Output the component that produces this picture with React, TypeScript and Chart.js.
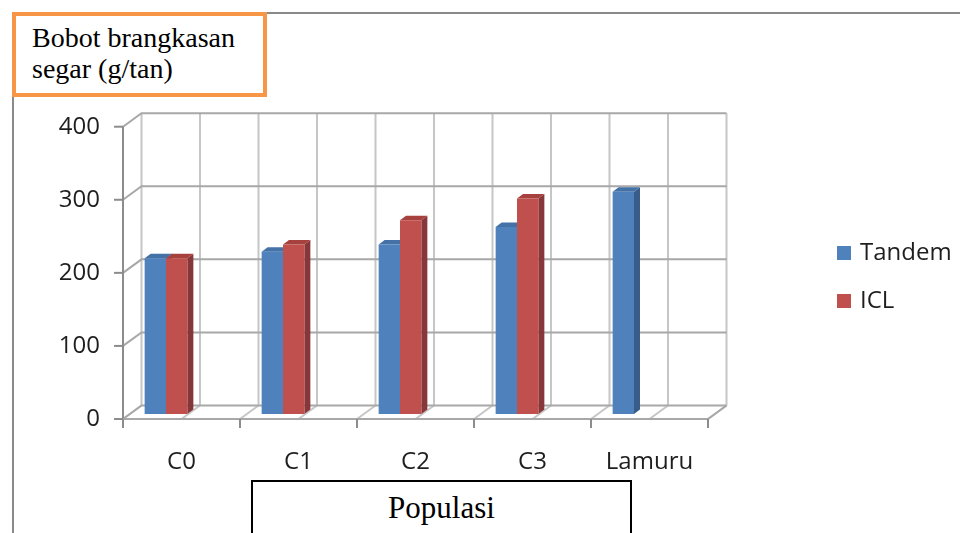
import { useEffect, useRef } from 'react';
import { Chart, registerables } from 'chart.js';

Chart.register(...registerables);

// Data
const categories = ['C0', 'C1', 'C2', 'C3', 'Lamuru'];
const seriesNames = ['Tandem', 'ICL'];
const tandemValues = [213, 222, 232, 256, 304];
const iclValues: (number | null)[] = [213, 232, 265, 295, null];
const yMin = 0;
const yMax = 400;
const yStep = 100;

// Styling
const FRONT_COLORS = ['#4F81BD', '#C0504D'];
const TOP_COLORS = ['#4471A6', '#A6413E'];
const SIDE_COLORS = ['#385D8A', '#87363A'];
const AXIS_GRAY = '#8C8C8C';
const GRID_H = '#A8A8A8';
const GRID_V = '#C6C6C6';
const TEXT = '#1E1E1E';
const SANS = '"Open Sans", "Noto Sans", sans-serif';

// 3D projection: bars sit slightly behind the front axis plane,
// the back wall is further back (shifted right and up).
const FRONT_DX = 15.5; // front frame relative to bar-plane category grid
const FRONT_DY = 5;
const WALL_DX = 18.5;
const WALL_DY = -13.5;
const BAR_DX = 6;
const BAR_DY = -4.5;

const frame3d = {
  id: 'frame3d',
  beforeDatasetsDraw(chart: any) {
    const { ctx, chartArea, scales } = chart;
    const xs = scales.x;
    const ys = scales.y;
    const n = xs.getLabels().length;
    const catW = (chartArea.right - chartArea.left) / n;
    const fL = chartArea.left + FRONT_DX;
    const fR = chartArea.right + FRONT_DX;
    const bL = fL + WALL_DX;
    const bR = fR + WALL_DX;
    const fy = (v: number) => ys.getPixelForValue(v) + FRONT_DY;
    const by = (v: number) => fy(v) + WALL_DY;
    const tickVals: number[] = ys.ticks.map((t: any) => t.value);

    ctx.save();
    ctx.lineCap = 'butt';

    // back wall vertical grid (every half category)
    ctx.strokeStyle = GRID_V;
    ctx.lineWidth = 2;
    for (let k = 0; k <= n * 2; k++) {
      const x = bL + (k * catW) / 2;
      ctx.beginPath();
      ctx.moveTo(x, by(ys.max));
      ctx.lineTo(x, by(ys.min));
      ctx.stroke();
    }
    // floor diagonals
    for (let k = 0; k <= n * 2; k++) {
      const x0 = fL + (k * catW) / 2;
      ctx.beginPath();
      ctx.moveTo(x0, fy(ys.min));
      ctx.lineTo(x0 + WALL_DX, by(ys.min));
      ctx.stroke();
    }

    // back wall horizontal grid + left wall diagonals
    ctx.strokeStyle = GRID_H;
    for (const v of tickVals) {
      ctx.beginPath();
      ctx.moveTo(fL, fy(v));
      ctx.lineTo(bL, by(v));
      ctx.lineTo(bR, by(v));
      ctx.stroke();
    }
    // right end of floor
    ctx.beginPath();
    ctx.moveTo(bR, by(ys.min));
    ctx.lineTo(fR, fy(ys.min));
    ctx.stroke();

    // front axes
    ctx.strokeStyle = AXIS_GRAY;
    ctx.beginPath();
    ctx.moveTo(fL, fy(ys.max));
    ctx.lineTo(fL, fy(ys.min));
    ctx.stroke();
    ctx.strokeStyle = GRID_H;
    ctx.beginPath();
    ctx.moveTo(fL, fy(ys.min));
    ctx.lineTo(fR, fy(ys.min));
    ctx.stroke();
    ctx.strokeStyle = AXIS_GRAY;
    for (const v of tickVals) {
      ctx.beginPath();
      ctx.moveTo(fL - 9, fy(v));
      ctx.lineTo(fL, fy(v));
      ctx.stroke();
    }
    for (let i = 0; i <= n; i++) {
      const x = fL + i * catW;
      ctx.beginPath();
      ctx.moveTo(x, fy(ys.min));
      ctx.lineTo(x, fy(ys.min) + 9);
      ctx.stroke();
    }

    // bar depth faces (top and right side)
    chart.data.datasets.forEach((_ds: any, di: number) => {
      const meta = chart.getDatasetMeta(di);
      meta.data.forEach((bar: any, i: number) => {
        const raw = chart.data.datasets[di].data[i];
        if (raw === null || raw === undefined) return;
        const { x, y, base, width } = bar.getProps(['x', 'y', 'base', 'width'], true);
        const l = x - width / 2;
        const r = x + width / 2;
        ctx.fillStyle = SIDE_COLORS[di];
        ctx.beginPath();
        ctx.moveTo(r, y);
        ctx.lineTo(r + BAR_DX, y + BAR_DY);
        ctx.lineTo(r + BAR_DX, base + BAR_DY);
        ctx.lineTo(r, base);
        ctx.closePath();
        ctx.fill();
        ctx.fillStyle = TOP_COLORS[di];
        ctx.beginPath();
        ctx.moveTo(l, y);
        ctx.lineTo(l + BAR_DX, y + BAR_DY);
        ctx.lineTo(r + BAR_DX, y + BAR_DY);
        ctx.lineTo(r, y);
        ctx.closePath();
        ctx.fill();
      });
    });
    ctx.restore();
  },
  afterDraw(chart: any) {
    const { ctx, chartArea, scales } = chart;
    const xs = scales.x;
    const ys = scales.y;
    const labels: string[] = xs.getLabels();
    const n = labels.length;
    const catW = (chartArea.right - chartArea.left) / n;
    const fL = chartArea.left + FRONT_DX;
    const fy = (v: number) => ys.getPixelForValue(v) + FRONT_DY;

    ctx.save();
    ctx.fillStyle = TEXT;
    ctx.font = `24px ${SANS}`;
    ctx.textBaseline = 'middle';
    ctx.textAlign = 'right';
    for (const t of ys.ticks) {
      ctx.fillText(String(t.value), fL - 23, fy(t.value));
    }
    ctx.textAlign = 'center';
    labels.forEach((lab, i) => {
      ctx.fillText(lab, fL + (i + 0.5) * catW, fy(ys.min) + 43);
    });

    // legend
    const lx = 837;
    const ly = 253;
    chart.data.datasets.forEach((ds: any, di: number) => {
      const cy = ly + di * 48;
      ctx.fillStyle = FRONT_COLORS[di];
      ctx.fillRect(lx, cy - 7, 14, 14);
      ctx.fillStyle = TEXT;
      ctx.textAlign = 'left';
      ctx.fillText(ds.label, lx + 23, cy);
    });
    ctx.restore();
  },
};

function BarChart3D() {
  const canvasRef = useRef<HTMLCanvasElement | null>(null);

  useEffect(() => {
    const canvas = canvasRef.current;
    if (!canvas) return;
    const chart = new Chart(canvas, {
      type: 'bar',
      data: {
        labels: categories,
        datasets: [
          {
            label: seriesNames[0],
            data: tandemValues,
            backgroundColor: FRONT_COLORS[0],
            borderWidth: 0,
            categoryPercentage: 0.365,
            barPercentage: 1,
          },
          {
            label: seriesNames[1],
            data: iclValues,
            backgroundColor: FRONT_COLORS[1],
            borderWidth: 0,
            categoryPercentage: 0.365,
            barPercentage: 1,
          },
        ],
      },
      options: {
        responsive: false,
        animation: false,
        devicePixelRatio: 1,
        layout: { padding: { left: 107.5, right: 267.5, top: 121.7, bottom: 119 } },
        plugins: { legend: { display: false }, tooltip: { enabled: false }, title: { display: false } },
        scales: {
          x: { display: false, offset: true },
          y: { display: false, min: yMin, max: yMax, ticks: { stepSize: yStep } },
        },
      },
      plugins: [frame3d],
    });
    return () => chart.destroy();
  }, []);

  return <canvas ref={canvasRef} width={960} height={533} style={{ position: 'absolute', left: 0, top: 0, width: 960, height: 533 }} />;
}

export default function App() {
  return (
    <div style={{ position: 'fixed', left: 0, top: 0, width: 960, height: 533, overflow: 'hidden', background: '#fff' }}>
      {/* outer chart border */}
      <div
        style={{
          position: 'absolute',
          left: 12,
          top: 12,
          width: 1000,
          height: 700,
          borderTop: '2px solid #8A8A8A',
          borderLeft: '2px solid #8A8A8A',
        }}
      />
      <BarChart3D />
      {/* value axis title */}
      <div
        style={{
          position: 'absolute',
          left: 12,
          top: 12,
          width: 255,
          height: 85,
          boxSizing: 'border-box',
          border: '4px solid #F79646',
          background: '#fff',
          padding: '7px 0 0 16px',
          fontFamily: '"Liberation Serif", "Times New Roman", serif',
          fontSize: 28,
          lineHeight: '30.6px',
          color: '#000',
          whiteSpace: 'nowrap',
        }}
      >
        Bobot brangkasan
        <br />
        segar (g/tan)
      </div>
      {/* category axis title */}
      <div
        style={{
          position: 'absolute',
          left: 251,
          top: 480,
          width: 381,
          height: 90,
          boxSizing: 'border-box',
          border: '2px solid #000',
          background: '#fff',
          paddingTop: 9,
          textAlign: 'center',
          fontFamily: '"Liberation Serif", "Times New Roman", serif',
          fontSize: 31,
          lineHeight: '34px',
          color: '#000',
        }}
      >
        Populasi
      </div>
    </div>
  );
}
